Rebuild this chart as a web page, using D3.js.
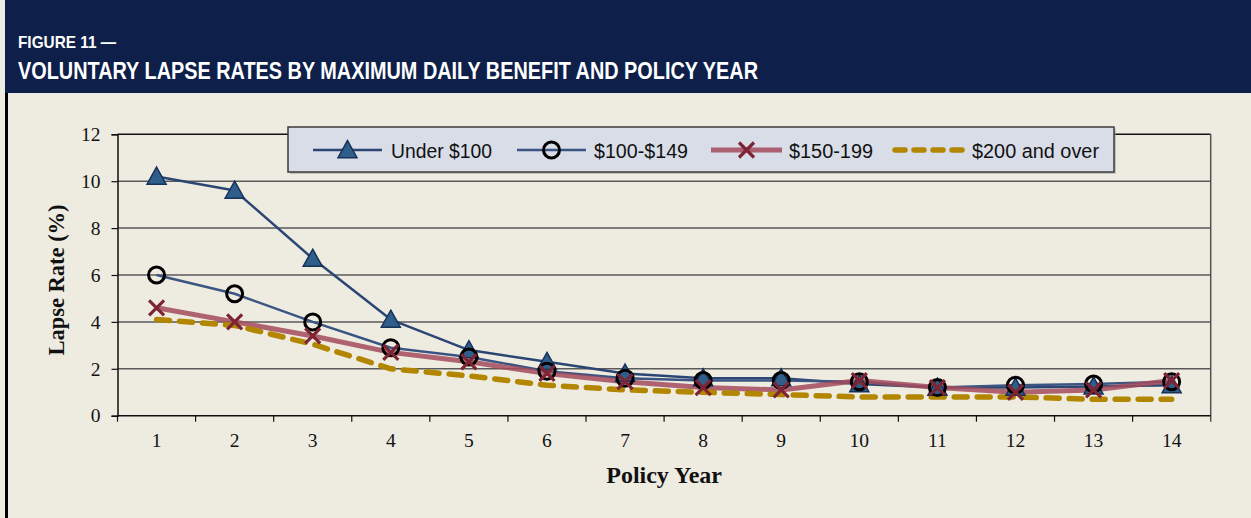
<!DOCTYPE html>
<html><head><meta charset="utf-8">
<script src="https://cdn.jsdelivr.net/npm/d3@7"></script>
<style>html,body{margin:0;padding:0;background:#EEEBE1;}svg{display:block;}</style>
</head><body>
<script>
const years = [1,2,3,4,5,6,7,8,9,10,11,12,13,14];
const under100 = [10.2, 9.6, 6.7, 4.1, 2.8, 2.3, 1.8, 1.6, 1.6, 1.35, 1.2, 1.2, 1.25, 1.3];
const s100_149 = [6.0, 5.2, 4.0, 2.9, 2.5, 1.9, 1.6, 1.5, 1.5, 1.45, 1.2, 1.3, 1.35, 1.45];
const s150_199 = [4.6, 4.0, 3.4, 2.7, 2.3, 1.8, 1.45, 1.2, 1.1, 1.5, 1.2, 1.0, 1.1, 1.5];
const s200plus = [4.1, 3.85, 3.05, 2.0, 1.7, 1.3, 1.1, 1.0, 0.9, 0.8, 0.8, 0.8, 0.7, 0.7];
const seriesNames = ["Under $100", "$100-$149", "$150-199", "$200 and over"];
const yTicks = [0,2,4,6,8,10,12];
const figureLabel = "FIGURE 11 —";
const titleText = "VOLUNTARY LAPSE RATES BY MAXIMUM DAILY BENEFIT AND POLICY YEAR";
const xTitle = "Policy Year";
const yTitle = "Lapse Rate (%)";

const W = 1251, H = 518;
const svg = d3.select("body").append("svg").attr("width", W).attr("height", H);

// background + header
svg.append("rect").attr("x",0).attr("y",0).attr("width",W).attr("height",H).attr("fill","#EEEBE1");
svg.append("rect").attr("x",5).attr("y",0).attr("width",W-5).attr("height",93).attr("fill","#0E2049");
svg.append("rect").attr("x",5).attr("y",93).attr("width",3).attr("height",H-93).attr("fill","#000");
svg.append("text").attr("x",18).attr("y",48).attr("fill","#fff")
  .attr("font-family","'Liberation Sans Narrow','Arial Narrow','Liberation Sans',Arial,sans-serif")
  .attr("font-weight","bold").attr("font-size",17)
  .attr("textLength",98).attr("lengthAdjust","spacingAndGlyphs").text(figureLabel);
svg.append("text").attr("x",18).attr("y",79).attr("fill","#fff")
  .attr("font-family","'Liberation Sans Narrow','Arial Narrow','Liberation Sans',Arial,sans-serif")
  .attr("font-weight","bold").attr("font-size",23.5)
  .attr("textLength",740).attr("lengthAdjust","spacingAndGlyphs").text(titleText);

const L = 117.5, R = 1210.7, T = 134.3, B = 415.7;
const x = d3.scaleBand().domain(years).range([L,R]);
const xc = d => x(d) + x.bandwidth()/2;
const y = d3.scaleLinear().domain([0,12]).range([B,T]);

// gridlines
svg.append("g").selectAll("line").data(yTicks.filter(t=>t>0)).join("line")
  .attr("x1",L).attr("x2",R).attr("y1",d=>y(d)).attr("y2",d=>y(d))
  .attr("stroke",d=>d===12?"#111":"#5a5a5a").attr("stroke-width",1.5);
// right border
svg.append("line").attr("x1",R).attr("x2",R).attr("y1",T).attr("y2",B+6).attr("stroke","#555").attr("stroke-width",1.5);

// y axis
const yAxis = svg.append("g").attr("transform",`translate(${L},0)`)
  .call(d3.axisLeft(y).tickValues(yTicks).tickSize(6).tickPadding(11).tickFormat(d3.format("d")));
yAxis.select(".domain").attr("stroke","#111").attr("stroke-width",1.5);
yAxis.selectAll(".tick line").attr("stroke","#111").attr("stroke-width",1.2);
yAxis.selectAll("text").attr("font-family","'Liberation Serif','Times New Roman',serif").attr("font-size",19.5).attr("fill","#111");

// x axis
const xAxis = svg.append("g").attr("transform",`translate(0,${B})`)
  .call(d3.axisBottom(x).tickSize(0).tickPadding(17));
xAxis.select(".domain").remove();
svg.append("line").attr("x1",L).attr("x2",R).attr("y1",B).attr("y2",B).attr("stroke","#111").attr("stroke-width",1.5);
xAxis.selectAll("text").attr("font-family","'Liberation Serif','Times New Roman',serif").attr("font-size",19.5).attr("fill","#111");
svg.append("g").selectAll("line").data(years).join("line")
  .attr("x1",d=>x(d)).attr("x2",d=>x(d)).attr("y1",B).attr("y2",B+6)
  .attr("stroke","#111").attr("stroke-width",1.2);

// axis titles
svg.append("text").attr("x",(L+R)/2).attr("y",483).attr("text-anchor","middle")
  .attr("font-family","'Liberation Serif','Times New Roman',serif").attr("font-weight","bold").attr("font-size",24).attr("fill","#111").text(xTitle);
svg.append("text").attr("transform",`translate(64,${(T+B)/2+5}) rotate(-90)`).attr("text-anchor","middle")
  .attr("font-family","'Liberation Serif','Times New Roman',serif").attr("font-weight","bold").attr("font-size",22.5).attr("fill","#111").text(yTitle);

const line = d3.line().x((d,i)=>xc(years[i])).y(d=>y(d));
const styles = [
  {data: under100, stroke:"#2C4673", width:2.5, dash:null, op:1, marker:"tri"},
  {data: s100_149, stroke:"#3A5582", width:2.5, dash:null, op:1, marker:"circle"},
  {data: s150_199, stroke:"#A34B5C", width:5, dash:null, op:0.85, marker:"x"},
  {data: s200plus, stroke:"#B38600", width:5.5, dash:"13,10", op:1, marker:null}
];
styles.forEach(s=>{
  svg.append("path").datum(s.data).attr("d",line).attr("fill","none")
    .attr("stroke",s.stroke).attr("stroke-width",s.width).attr("stroke-opacity",s.op)
    .attr("stroke-dasharray",s.dash).attr("stroke-linecap",s.dash?"round":"butt").attr("stroke-linejoin","round");
});

function drawMarker(g, type, cx, cy){
  if(type==="tri"){
    const h=17, w=19;
    g.append("path").attr("d",`M${cx},${cy-h*0.55} L${cx+w/2},${cy+h*0.45} L${cx-w/2},${cy+h*0.45} Z`)
      .attr("fill","#2F5E8B").attr("stroke","#16315A").attr("stroke-width",1.5);
  } else if(type==="circle"){
    g.append("circle").attr("cx",cx).attr("cy",cy).attr("r",8).attr("fill","none").attr("stroke","#000").attr("stroke-width",3);
  } else if(type==="x"){
    const r=7.5;
    g.append("path").attr("d",`M${cx-r},${cy-r} L${cx+r},${cy+r} M${cx+r},${cy-r} L${cx-r},${cy+r}`)
      .attr("stroke","#7E2535").attr("stroke-width",3.2).attr("fill","none");
  }
}
styles.forEach(s=>{
  if(!s.marker) return;
  const g = svg.append("g");
  s.data.forEach((v,i)=>drawMarker(g, s.marker, xc(years[i]), y(v)));
});

// legend
const lg = svg.append("g");
lg.append("rect").attr("x",290).attr("y",129).attr("width",826).attr("height",45).attr("fill","#9a9a9a").attr("opacity",0.5);
lg.append("rect").attr("x",288).attr("y",127).attr("width",826).attr("height",45)
  .attr("fill","#D8DDE8").attr("stroke","#3a3a3a").attr("stroke-width",1.5);
const legItems = [
  {x0:313, x1:382, text:391, w:101},
  {x0:517, x1:586, text:594, w:94},
  {x0:711, x1:782, text:789, w:84},
  {x0:895, x1:967, text:972, w:127}
];
const ly = 150;
styles.forEach((s,i)=>{
  const it = legItems[i];
  lg.append("line").attr("x1",it.x0).attr("x2",it.x1).attr("y1",ly).attr("y2",ly)
    .attr("stroke",s.stroke).attr("stroke-width",s.width).attr("stroke-opacity",s.op)
    .attr("stroke-dasharray",s.dash?"10,9":null).attr("stroke-linecap",s.dash?"round":"butt");
  if(s.marker) drawMarker(lg, s.marker, (it.x0+it.x1)/2, ly);
  lg.append("text").attr("x",it.text).attr("y",ly+7.5)
    .attr("font-family","'Liberation Sans',Arial,sans-serif").attr("font-size",20.5).attr("fill","#111")
    .attr("textLength",it.w).attr("lengthAdjust","spacingAndGlyphs").text(seriesNames[i]);
});
</script>
</body></html>
